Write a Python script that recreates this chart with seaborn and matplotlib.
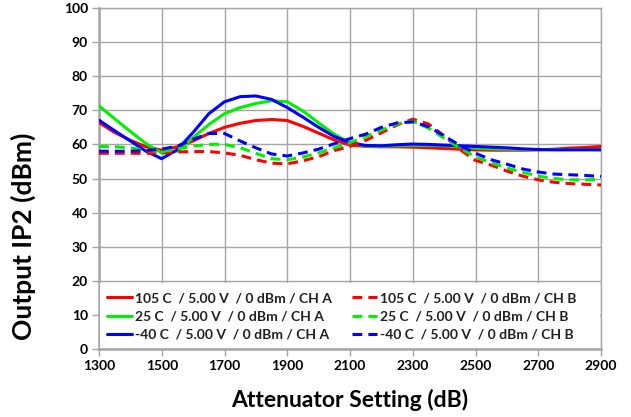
import numpy as np
import pandas as pd
import matplotlib
matplotlib.use("Agg")
import matplotlib.pyplot as plt
from matplotlib.patches import Rectangle
import seaborn as sns

x_setting = [1300, 1350, 1400, 1450, 1500, 1550, 1600, 1650, 1700, 1750, 1800,
             1850, 1900, 1950, 2000, 2050, 2100, 2150, 2200, 2250, 2300, 2350,
             2400, 2450, 2500, 2550, 2600, 2650, 2700, 2750, 2800, 2850, 2900]

a_105 = [66.4, 63.5, 61.2, 59.3, 58.3, 59.3, 61.0, 63.2, 65.0, 66.2, 67.0,
         67.3, 67.0, 65.3, 63.3, 61.3, 59.8, 59.4, 59.3, 59.3, 59.2, 59.0,
         58.8, 58.6, 58.4, 58.3, 58.3, 58.3, 58.4, 58.6, 58.9, 59.1, 59.4]
a_25 = [71.3, 67.5, 63.8, 60.2, 57.5, 58.0, 62.0, 65.8, 69.0, 70.8, 72.0,
        72.8, 72.5, 69.8, 66.3, 63.0, 60.4, 59.5, 59.4, 59.6, 59.7, 59.7,
        59.6, 59.3, 58.9, 58.7, 58.6, 58.5, 58.5, 58.5, 58.5, 58.5, 58.5]
a_m40 = [67.1, 64.0, 61.0, 58.0, 55.8, 58.5, 63.5, 69.0, 72.5, 74.0, 74.2,
         73.2, 70.8, 68.0, 65.0, 62.3, 60.5, 59.7, 59.6, 59.9, 60.1, 60.0,
         59.8, 59.6, 59.4, 59.2, 59.0, 58.7, 58.5, 58.4, 58.4, 58.4, 58.4]
b_105 = [57.4, 57.4, 57.4, 57.4, 57.5, 57.8, 57.9, 57.9, 57.5, 56.8, 55.5,
         54.5, 54.3, 55.2, 56.4, 58.2, 59.4, 61.2, 63.4, 65.7, 67.4, 66.0,
         62.5, 58.5, 55.3, 53.9, 52.2, 50.7, 49.6, 48.9, 48.5, 48.3, 48.1]
b_25 = [59.4, 59.3, 59.0, 58.3, 57.8, 58.7, 59.5, 60.0, 60.0, 59.0, 57.4,
        55.8, 55.5, 56.3, 57.5, 59.0, 60.5, 62.3, 64.2, 66.0, 66.8, 64.8,
        61.8, 59.0, 56.3, 54.6, 53.1, 51.8, 50.7, 50.0, 49.6, 49.6, 49.8]
b_m40 = [58.0, 58.0, 58.0, 58.2, 58.6, 59.5, 61.5, 63.2, 63.2, 61.0, 59.0,
         57.2, 56.6, 57.5, 58.6, 60.2, 61.7, 63.0, 65.0, 66.3, 66.6, 65.2,
         62.5, 59.7, 57.4, 55.5, 54.2, 52.8, 51.9, 51.3, 51.1, 50.9, 50.6]

labels = ["105 C  / 5.00 V  / 0 dBm / CH A",
          "25 C  / 5.00 V  / 0 dBm / CH A",
          "-40 C  / 5.00 V  / 0 dBm / CH A",
          "105 C  / 5.00 V  / 0 dBm / CH B",
          "25 C  / 5.00 V  / 0 dBm / CH B",
          "-40 C  / 5.00 V  / 0 dBm / CH B"]
series = [a_105, a_25, a_m40, b_105, b_25, b_m40]
colors = ["#FF0000", "#00F000", "#0000FF", "#FF0000", "#00F000", "#0000FF"]
dashed = [False, False, False, True, True, True]

x_ticks = [1300, 1500, 1700, 1900, 2100, 2300, 2500, 2700, 2900]
y_ticks = list(range(0, 101, 10))

sns.set_theme(style="white")
plt.rcParams['font.family'] = ['Lato', 'DejaVu Sans']

fig = plt.figure(figsize=(6.31, 4.17), dpi=100)
ax = fig.add_axes([99/631, 1-349/417, 502/631, 341/417])

for vals, lab, col, d in zip(series, labels, colors, dashed):
    df = pd.DataFrame({"x": x_setting, "y": vals})
    ls = (0, (3.2, 2.0)) if d else "-"
    sns.lineplot(data=df, x="x", y="y", ax=ax, color=col, linewidth=2.2,
                 linestyle=ls, label=lab, zorder=3)

ax.set_xlim(1300, 2900)
ax.set_ylim(0, 100)
ax.set_xticks(x_ticks)
ax.set_yticks(y_ticks)
ax.grid(True, color="#a6a6a6", linewidth=1.0, zorder=0)
ax.set_axisbelow(True)
for s in ax.spines.values():
    s.set_color("#a6a6a6")
    s.set_linewidth(1.0)
ax.spines['left'].set_linewidth(1.8)
ax.spines['bottom'].set_linewidth(1.8)
ax.tick_params(axis='both', which='both', length=5, width=1.0, color="#a6a6a6",
               direction='out', labelsize=10, pad=3, bottom=True, left=True)
for t in ax.get_xticklabels() + ax.get_yticklabels():
    t.set_fontweight('bold')
    t.set_color('black')

ax.set_xlabel("Attenuator Setting (dB)", fontsize=16.5, fontweight='bold', color='black')
ax.xaxis.set_label_coords(0.5, -0.118)
ax.set_ylabel("Output IP2 (dBm)", fontsize=19, fontweight='bold', color='black')
ax.yaxis.set_label_coords(-0.125, 0.33)

# white background band behind the legend
ax.add_patch(Rectangle((0.002, 0.004), 0.996, 0.19, transform=ax.transAxes,
                       facecolor='white', edgecolor='none', zorder=4))

leg = ax.legend(loc='lower left', bbox_to_anchor=(0.0, 0.0), ncol=2,
                frameon=False, fontsize=10, handlelength=1.8,
                handletextpad=0.2, labelspacing=0.45, borderaxespad=0.0,
                borderpad=0.6, columnspacing=1.45)
leg.set_zorder(5)
for t in leg.get_texts():
    t.set_fontweight('bold')
    t.set_color('#222222')

fig.savefig("out.png", dpi=100)
